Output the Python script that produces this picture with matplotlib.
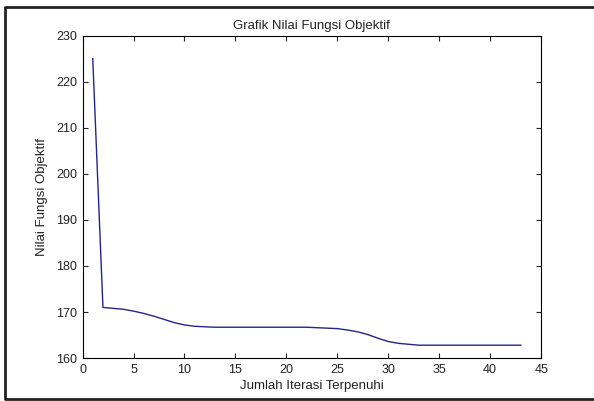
import matplotlib
matplotlib.use("Agg")
import matplotlib.pyplot as plt
from matplotlib.lines import Line2D

# data
iterasi = list(range(1, 44))
nilai = [225.0, 171.0, 170.8, 170.6, 170.2, 169.7, 169.1, 168.4, 167.7, 167.2,
         166.9, 166.8, 166.7, 166.7, 166.7, 166.7, 166.7, 166.7, 166.7, 166.7,
         166.7, 166.7, 166.6, 166.5, 166.4, 166.1, 165.7, 165.1, 164.3, 163.6,
         163.2, 163.0, 162.8, 162.8, 162.8, 162.8, 162.8, 162.8, 162.8, 162.8,
         162.8, 162.8, 162.8]

plt.rcParams['font.family'] = ['Liberation Sans', 'DejaVu Sans']

fig = plt.figure(figsize=(5.94, 4.01), dpi=100)
ax = fig.add_axes([0.139, 0.107, 0.772, 0.804])

ax.plot(iterasi, nilai, color='#24248c', linewidth=1.0)

ax.set_xlim(0, 45)
ax.set_ylim(160, 230)
ax.set_xticks(range(0, 46, 5))
ax.set_yticks(range(160, 231, 10))
ax.tick_params(direction='in', top=True, right=True, length=3.5, width=0.8,
               pad=4, labelsize=9, colors='#222222')
for s in ax.spines.values():
    s.set_linewidth(0.8)

ax.set_title('Grafik Nilai Fungsi Objektif', fontsize=9.5, pad=5, color='#222222')
ax.set_xlabel('Jumlah Iterasi Terpenuhi', fontsize=9.5, labelpad=3, color='#222222')
ax.set_ylabel('Nilai Fungsi Objektif', fontsize=9.5, labelpad=6, color='#222222')

# screenshot frame: top, left and bottom edges only
fx = [1.0, 0.008, 0.008, 1.0]
fy = [0.9825, 0.9825, 0.004, 0.004]
fig.lines.append(Line2D(fx, fy, transform=fig.transFigure, color='#222222', linewidth=2))

fig.savefig('out.png', dpi=100)
